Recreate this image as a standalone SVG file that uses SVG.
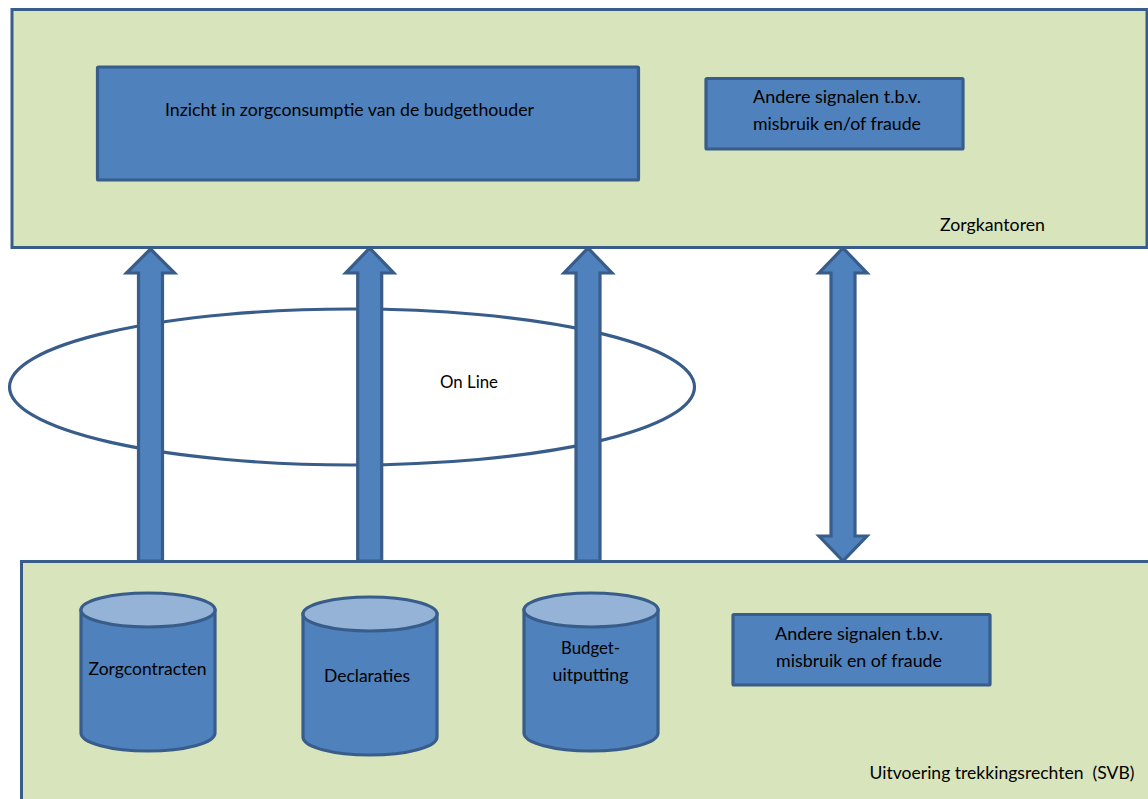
<svg xmlns="http://www.w3.org/2000/svg" width="1148" height="799" viewBox="0 0 1148 799">
<style>
.panel{fill:#d8e4bc;stroke:#385d8a;stroke-width:3}
.box,.arrow,.cyl{fill:#4f81bd;stroke:#385d8a;stroke-width:3.200;stroke-linejoin:miter}
.top{fill:#95b3d7;stroke:#385d8a;stroke-width:3.200}
.ring{fill:#fff;stroke:#385d8a;stroke-width:3.200}
text{font-family:"Lato","Carlito","Open Sans",sans-serif;font-size:17.500px;fill:#000;white-space:pre}
.m{text-anchor:middle}
</style>
<rect width="1148" height="799" fill="#fff"/>
<g id="zorgkantoren">
<rect class="panel" x="12" y="9.500" width="1135" height="238"/>
<text x="940" y="231" textLength="105" lengthAdjust="spacingAndGlyphs">Zorgkantoren</text>
</g>
<g id="inzicht">
<rect class="box" x="97.500" y="67" width="541" height="113" rx="1"/>
<text x="165" y="116" textLength="369" lengthAdjust="spacingAndGlyphs">Inzicht in zorgconsumptie van de budgethouder</text>
</g>
<g id="signalen-boven">
<rect class="box" x="706" y="78.500" width="257" height="70.500" rx="1"/>
<text class="m" x="837" y="103" textLength="168" lengthAdjust="spacingAndGlyphs">Andere signalen t.b.v.</text>
<text class="m" x="837" y="130" textLength="168" lengthAdjust="spacingAndGlyphs">misbruik en/of fraude</text>
</g>
<g id="online">
<ellipse class="ring" cx="352" cy="387" rx="342.500" ry="78"/>
<text x="440" y="388" textLength="58" lengthAdjust="spacingAndGlyphs">On Line</text>
</g>
<g id="connectors">
<path class="arrow" d="M150.500 249L174.500 273H162.500V561H138.500V273H126.500Z"/>
<path class="arrow" d="M369.700 248L393.700 273H381.700V561H357.700V273H345.700Z"/>
<path class="arrow" d="M588 248L612 273H600V561H576V273H564Z"/>
<path class="arrow" d="M843 248L867 273H855V536H867L843 561L819 536H831V273H819Z"/>
</g>
<g id="uitvoering">
<rect class="panel" x="21.500" y="561.500" width="1140" height="250"/>
<text x="869.500" y="779" textLength="265" lengthAdjust="spacingAndGlyphs">Uitvoering trekkingsrechten  (SVB)</text>
</g>
<g id="zorgcontracten">
<path class="cyl" d="M81 610V733A67 18 0 0 0 215 733V610Z"/>
<ellipse class="top" cx="148" cy="610" rx="67" ry="17"/>
<text class="m" x="147.500" y="675" textLength="118" lengthAdjust="spacingAndGlyphs">Zorgcontracten</text>
</g>
<g id="declaraties">
<path class="cyl" d="M303 614V737A67 18 0 0 0 437 737V614Z"/>
<ellipse class="top" cx="370" cy="614" rx="67" ry="17"/>
<text class="m" x="367" y="682" textLength="86" lengthAdjust="spacingAndGlyphs">Declaraties</text>
</g>
<g id="budget">
<path class="cyl" d="M524 610V733A67 18 0 0 0 658 733V610Z"/>
<ellipse class="top" cx="591" cy="610" rx="67" ry="17"/>
<text class="m" x="590.500" y="654" textLength="59" lengthAdjust="spacingAndGlyphs">Budget-</text>
<text class="m" x="590.500" y="681" textLength="76" lengthAdjust="spacingAndGlyphs">uitputting</text>
</g>
<g id="signalen-onder">
<rect class="box" x="733" y="614.500" width="257" height="70.500" rx="1"/>
<text class="m" x="859" y="640" textLength="168" lengthAdjust="spacingAndGlyphs">Andere signalen t.b.v.</text>
<text class="m" x="859" y="667" textLength="166" lengthAdjust="spacingAndGlyphs">misbruik en of fraude</text>
</g>
</svg>
